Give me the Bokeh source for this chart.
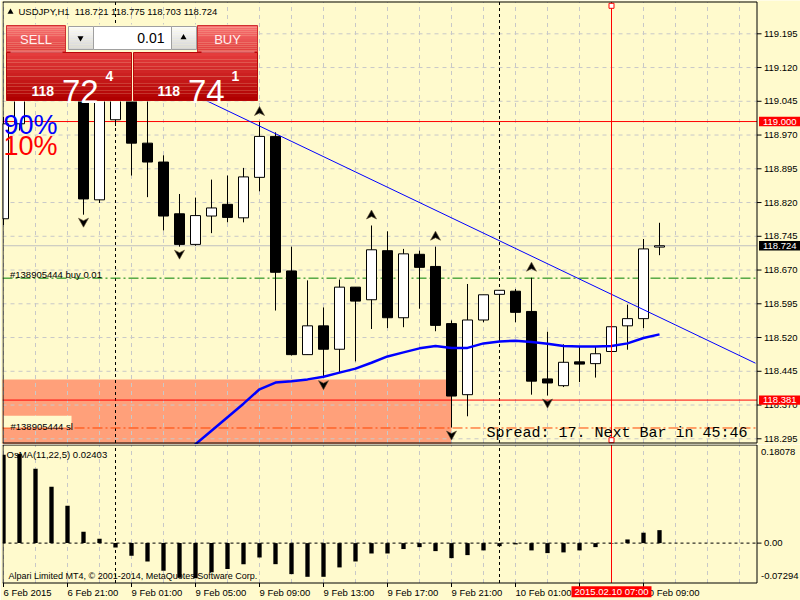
import numpy as np
from bokeh.plotting import figure
from bokeh.layouts import column
from bokeh.models import Range1d
from bokeh.core.properties import value
from bokeh.embed import file_html
from bokeh.resources import INLINE

# ------------------------------------------------------------------ data
symbol = "USDJPY,H1"
bar_times = (["6 Feb %02d:00" % h for h in range(17, 24)] +
             ["9 Feb %02d:00" % h for h in range(0, 24)] +
             ["10 Feb %02d:00" % h for h in range(0, 11)])
opens = [118.784, 118.995, 119.120, 119.180, 119.150, 119.120, 118.826, 119.004, 119.100, 118.952,
         118.910, 118.795, 118.727, 118.790, 118.816, 118.786, 118.876, 118.967, 118.668, 118.482,
         118.546, 118.494, 118.632, 118.604, 118.713, 118.564, 118.705, 118.678, 118.551, 118.393,
         118.559, 118.616, 118.623, 118.578, 118.428, 118.413, 118.466, 118.462, 118.489, 118.546,
         118.562, 118.721]
highs = [119.010, 119.160, 119.200, 119.200, 119.190, 119.140, 119.100, 119.130, 119.120, 119.060,
         118.925, 118.839, 118.831, 118.871, 118.880, 118.897, 118.999, 118.976, 118.722, 118.647,
         118.587, 118.649, 118.632, 118.769, 118.756, 118.717, 118.713, 118.722, 118.558, 118.639,
         118.615, 118.625, 118.628, 118.653, 118.533, 118.505, 118.499, 118.499, 118.546, 118.593,
         118.739, 118.775]
lows = [118.770, 118.980, 119.100, 119.100, 119.080, 118.793, 118.819, 118.990, 118.880, 118.832,
        118.758, 118.722, 118.724, 118.752, 118.776, 118.776, 118.845, 118.580, 118.480, 118.482,
        118.432, 118.441, 118.467, 118.539, 118.541, 118.543, 118.584, 118.534, 118.320, 118.345,
        118.554, 118.518, 118.554, 118.393, 118.391, 118.410, 118.421, 118.431, 118.487, 118.493,
        118.541, 118.703]
closes = [118.995, 119.120, 119.180, 119.150, 119.120, 118.828, 119.080, 119.100, 118.952, 118.910,
          118.790, 118.727, 118.791, 118.808, 118.787, 118.877, 118.967, 118.665, 118.482, 118.546,
          118.494, 118.632, 118.601, 118.715, 118.564, 118.706, 118.676, 118.547, 118.390, 118.559,
          118.615, 118.625, 118.576, 118.423, 118.419, 118.465, 118.461, 118.484, 118.544, 118.562,
          118.717, 118.724]
osma = [0.1635, 0.1650, 0.1376, 0.1043, 0.0690, 0.0209, 0.0080, -0.0081, -0.0235, -0.0340,
        -0.0513, -0.0640, -0.0650, -0.0540, -0.0480, -0.0390, -0.0266, -0.0390, -0.0574, -0.0624,
        -0.0624, -0.0450, -0.0340, -0.0192, -0.0192, -0.0110, -0.0074, -0.0148, -0.0278, -0.0222,
        -0.0135, -0.0056, -0.0024, -0.0135, -0.0185, -0.0172, -0.0135, -0.0074, -0.0010, 0.0068,
        0.0193, 0.02403]
osma_range = [-0.07294, 0.18078]
ma_index = list(range(11, 42))
ma_values = [118.253, 118.283, 118.313, 118.343, 118.373, 118.405, 118.420, 118.423, 118.427, 118.433,
             118.442, 118.451, 118.464, 118.478, 118.487, 118.496, 118.501, 118.497, 118.497, 118.507,
             118.511, 118.513, 118.510, 118.506, 118.501, 118.500, 118.500, 118.501, 118.507, 118.519,
             118.527]
fractal_up = [16, 23, 27, 33]
fractal_down = [5, 11, 20, 28, 34]
trend_index = [10, 47]
trend_price = [119.092, 118.463]
zone_index = [-5, 28]
zone_price = [118.427, 118.100]
day_separators = [7, 31]
level_a = 119.000
level_b = 118.381
order_id = "#138905444"
order_price = 118.652
order_lots = 0.01
sl_price = 118.319
spread_points = 17
next_bar = "45:46"
price_ticks = [119.195, 119.120, 119.045, 118.970, 118.895, 118.820, 118.745, 118.670,
               118.595, 118.520, 118.445, 118.370, 118.295]
date_tick_index = [0, 4, 8, 12, 16, 20, 24, 28, 32, 36, 40]
date_tick_labels = ["6 Feb 2015", "6 Feb 21:00", "9 Feb 01:00", "9 Feb 05:00", "9 Feb 09:00",
                    "9 Feb 13:00", "9 Feb 17:00", "9 Feb 21:00", "10 Feb 01:00", "10 Feb 05:00",
                    "10 Feb 09:00"]
crosshair_index = 38
crosshair_label = "2015.02.10 07:00"
main_y_range = [118.2823, 119.2690]

# ------------------------------------------------------------------ geometry / style
BG = "#FFFACD"
FONT = "Liberation Sans"
FS = "9.5px"
W = 800
H1, H2 = 444, 156
BAR_PX = 16.0
x_lo = -1 / BAR_PX
x_hi = x_lo + (W - 2) / BAR_PX
ppp = (main_y_range[1] - main_y_range[0]) / H1       # price per pixel, main panel
opp = (osma_range[1] - osma_range[0]) / 137.0        # value per pixel, indicator panel
o_hi = osma_range[1] + (445 - H1) * opp
o_lo = o_hi - H2 * opp


def X(px):
    return x_lo + (px - 2) / BAR_PX


def Y(py):
    return main_y_range[1] - py * ppp


def YO(py):
    return o_hi - (py - H1) * opp


def mix(c1, c2, t):
    a = [int(c1[i:i + 2], 16) for i in (1, 3, 5)]
    b = [int(c2[i:i + 2], 16) for i in (1, 3, 5)]
    return "#%02x%02x%02x" % tuple(int(round(a[j] + (b[j] - a[j]) * t)) for j in range(3))


def txt(p, x, y, s, size=FS, color="black", align="left", baseline="middle", font=FONT, style="normal"):
    p.text(x=[x], y=[y], text=[s], text_font=value(font), text_font_size=size, text_color=color,
           text_align=align, text_baseline=baseline, text_font_style=style)


idx = list(range(len(opens)))
bid = closes[-1]
ask = bid + spread_points * 0.001
x_axis = X(756.5)
grid_bars = list(range(0, 48, 2))
GRID = "#c8c8c8"

# ------------------------------------------------------------------ main panel
p1 = figure(frame_width=W - 2, frame_height=H1, x_range=Range1d(x_lo, x_hi),
            y_range=Range1d(*main_y_range), output_backend="svg", toolbar_location=None,
            x_axis_location=None, y_axis_location=None, min_border_left=2, min_border_right=0,
            min_border_top=0, min_border_bottom=0, background_fill_color=BG, border_fill_color=BG,
            outline_line_color=None)
p1.grid.visible = False
top1, bot1 = Y(1.5), Y(442.5)

# zone rectangle
p1.quad(left=[zone_index[0]], right=[zone_index[1]], top=[zone_price[0]], bottom=[zone_price[1]],
        fill_color="#FFA07A", line_color=None)
# grid
p1.segment(x0=[x_lo] * len(price_ticks), y0=price_ticks, x1=[x_axis] * len(price_ticks), y1=price_ticks,
           line_color=GRID, line_dash="4 4", line_width=1)
p1.segment(x0=grid_bars, y0=[bot1] * len(grid_bars), x1=grid_bars, y1=[top1] * len(grid_bars),
           line_color=GRID, line_dash="4 4", line_width=1)
# day separators
p1.segment(x0=day_separators, y0=[bot1] * 2, x1=day_separators, y1=[top1] * 2,
           line_color="black", line_dash="3 3", line_width=1)
# horizontal levels
hl = [(level_a, "#FF0000", "solid"), (level_b, "#FF0000", "solid"), (bid, "#C0C0C0", "solid"),
      (order_price, "#008000", "10 3 2 3"), (sl_price, "#FF4500", "10 3 2 3")]
for lvl, col, dash in hl:
    p1.segment(x0=[x_lo], y0=[lvl], x1=[x_axis], y1=[lvl], line_color=col, line_width=1, line_dash=dash)

# candles
body_top = [max(o, c) for o, c in zip(opens, closes)]
body_bot = [min(o, c) for o, c in zip(opens, closes)]
fills = ["white" if c >= o else "black" for o, c in zip(opens, closes)]
p1.segment(x0=idx, y0=lows, x1=idx, y1=highs, line_color="black", line_width=1)
p1.vbar(x=idx, top=body_top, bottom=body_bot, width=0.625, fill_color=fills, line_color="black", line_width=1)

# trend line and moving average
p1.line(trend_index, trend_price, line_color="#0000FF", line_width=1)
p1.line(ma_index, ma_values, line_color="#0000FF", line_width=2.5)

# fractal arrows (arrow-head shapes, sized in pixels)
up_shape = [(0, -5), (5, 4), (0, 1.5), (-5, 4)]
dn_shape = [(0, 5), (5, -4), (0, -1.5), (-5, -4)]
p1.patches(xs=[[k + dx / BAR_PX for dx, dy in up_shape] for k in fractal_up],
           ys=[[highs[k] + (10.5 - dy) * ppp for dx, dy in up_shape] for k in fractal_up],
           fill_color="black", line_color="#5a4a30", line_width=0.6)
p1.patches(xs=[[k + dx / BAR_PX for dx, dy in dn_shape] for k in fractal_down],
           ys=[[lows[k] - (7.5 + dy) * ppp for dx, dy in dn_shape] for k in fractal_down],
           fill_color="black", line_color="#5a4a30", line_width=0.6)

# crosshair
p1.segment(x0=[crosshair_index], y0=[bot1], x1=[crosshair_index], y1=[top1], line_color="#FF0000", line_width=1)
p1.scatter([crosshair_index, crosshair_index], [Y(5.3), Y(439.7)], marker="square", size=5,
           fill_color="white", line_color="#FF0000", line_width=1)

# order texts
txt(p1, X(9.5), order_price + 3.7 * ppp, "%s buy %.2f" % (order_id, order_lots), baseline="alphabetic")
p1.quad(left=[X(3)], right=[X(71)], top=[sl_price + 12.3 * ppp], bottom=[sl_price + 0.6 * ppp],
        fill_color=BG, line_color=None)
txt(p1, X(10), sl_price + 1.8 * ppp, "%s sl" % order_id, baseline="alphabetic")
txt(p1, X(747), Y(432.5), "Spread: %d. Next Bar in %s" % (spread_points, next_bar), size="15px",
    align="right", font="Liberation Mono")

# panel borders and right price scale
p1.segment(x0=[x_lo, x_lo, X(2.5), x_axis], y0=[top1, bot1, bot1, bot1],
           x1=[x_axis, x_axis, X(2.5), x_axis], y1=[top1, bot1, top1, top1], line_color="black", line_width=1)
p1.segment(x0=[x_axis] * len(price_ticks), y0=price_ticks, x1=[X(761)] * len(price_ticks), y1=price_ticks,
           line_color="black", line_width=1)
p1.text(x=[X(763.5)] * len(price_ticks), y=price_ticks, text=["%.3f" % t for t in price_ticks],
        text_font=value(FONT), text_font_size=FS, text_color="black", text_baseline="middle")
for lvl, bgc in ((level_a, "#FF0000"), (bid, "#000000"), (level_b, "#FF0000")):
    p1.quad(left=[X(758.5)], right=[x_hi], top=[lvl + 4.7 * ppp], bottom=[lvl - 4.7 * ppp],
            fill_color=bgc, line_color=None)
    txt(p1, X(762.5), lvl, "%.3f" % lvl, color="white")

# header
p1.scatter([X(10)], [Y(11.5)], marker="triangle", size=6, fill_color="black", line_color=None)
txt(p1, X(18), Y(10.5), "%s\u00a0\u00a0%.3f %.3f %.3f %.3f" % (symbol, opens[-1], highs[-1], lows[-1], closes[-1]))

# one-click trading panel
p1.quad(left=[X(5)], right=[X(258)], top=[Y(24)], bottom=[Y(101)], fill_color=BG, line_color=None)


def grad_box(px0, px1, py0, py1, ctop, cbot, outline=None, n=14):
    hs = np.linspace(py0, py1, n + 1)
    p1.quad(left=[X(px0)] * n, right=[X(px1)] * n, top=[Y(h) for h in hs[:-1]],
            bottom=[Y(h) for h in hs[1:]], fill_color=[mix(ctop, cbot, i / (n - 1)) for i in range(n)],
            line_color=None)
    if outline:
        p1.quad(left=[X(px0)], right=[X(px1)], top=[Y(py0)], bottom=[Y(py1)], fill_color=None,
                line_color=outline, line_width=1)


grad_box(6, 65, 25, 52, "#f67070", "#e03c3c", "#d03030")
grad_box(197, 257, 25, 52, "#f67070", "#e03c3c", "#d03030")
grad_box(68, 93, 26, 49, "#fbfbfb", "#d6d6d6", "#a0a0a0")
grad_box(171, 196, 26, 49, "#fbfbfb", "#d6d6d6", "#a0a0a0")
p1.quad(left=[X(93)], right=[X(171)], top=[Y(26)], bottom=[Y(49)], fill_color="white",
        line_color="#a0a0a0", line_width=1)
grad_box(6, 131, 52, 100, "#e43c3c", "#b00000", "#b80808")
grad_box(133, 257, 52, 100, "#e43c3c", "#b00000", "#b80808")
p1.segment(x0=[X(10), X(201)], y0=[Y(51.5)] * 2, x1=[X(62), X(254)], y1=[Y(51.5)] * 2,
           line_color="#f2a0a0", line_width=1)
txt(p1, X(35.5), Y(38.5), "SELL", size="13px", color="#fff0f0", align="center")
txt(p1, X(227), Y(38.5), "BUY", size="13px", color="#fff0f0", align="center")
txt(p1, X(164), Y(37.5), "%.2f" % order_lots, size="14px", align="right")
p1.scatter([X(80)], [Y(37.5)], marker="inverted_triangle", size=6, fill_color="black", line_color=None)
p1.scatter([X(183)], [Y(37)], marker="triangle", size=6, fill_color="black", line_color=None)

bid_s, ask_s = "%.3f" % bid, "%.3f" % ask
for x0, s in ((0, bid_s), (126, ask_s)):
    txt(p1, X(31 + x0), Y(90), s[:3], size="14px", color="white", baseline="alphabetic", style="bold")
    txt(p1, X(61.5 + x0), Y(91), s[4:6], size="33px", color="white", baseline="alphabetic")
    txt(p1, X(105 + x0), Y(75), s[6], size="14px", color="white", baseline="alphabetic", style="bold")

txt(p1, X(3), Y(124), "90%", size="27px", color="#0000FF", baseline="alphabetic")
txt(p1, X(3), Y(145), "10%", size="27px", color="#FF0000", baseline="alphabetic")

# ------------------------------------------------------------------ OsMA panel
p2 = figure(frame_width=W - 2, frame_height=H2, x_range=p1.x_range, y_range=Range1d(o_lo, o_hi),
            output_backend="svg", toolbar_location=None, x_axis_location=None, y_axis_location=None,
            min_border_left=2, min_border_right=0, min_border_top=0, min_border_bottom=0,
            background_fill_color=BG, border_fill_color=BG, outline_line_color=None)
p2.grid.visible = False
top2, bot2 = YO(444.5), YO(582.5)

p2.segment(x0=grid_bars, y0=[bot2] * len(grid_bars), x1=grid_bars, y1=[top2] * len(grid_bars),
           line_color=GRID, line_dash="4 4", line_width=1)
p2.segment(x0=day_separators, y0=[bot2] * 2, x1=day_separators, y1=[top2] * 2,
           line_color="black", line_dash="3 3", line_width=1)
p2.vbar(x=idx, top=osma, bottom=0, width=0.27, fill_color="black", line_color=None)
p2.segment(x0=[x_lo], y0=[0], x1=[x_axis], y1=[0], line_color="black", line_dash="3 3", line_width=1)
p2.segment(x0=[crosshair_index], y0=[bot2], x1=[crosshair_index], y1=[top2], line_color="#FF0000", line_width=1)

txt(p2, X(6), YO(448), "OsMA(11,22,5) %.5f" % osma[-1], baseline="top")
txt(p2, X(8), YO(575.5), "Alpari Limited MT4, \u00a9 2001-2014, MetaQuotes Software Corp.", size="9px")

# borders and scales
p2.segment(x0=[x_lo, x_lo, X(2.5), x_axis], y0=[top2, bot2, bot2, bot2],
           x1=[x_axis, x_axis, X(2.5), x_axis], y1=[top2, bot2, top2, top2], line_color="black", line_width=1)
p2.segment(x0=[x_axis], y0=[0], x1=[X(761)], y1=[0], line_color="black", line_width=1)
txt(p2, X(763.5), 0, "%.2f" % 0.0)
txt(p2, X(760.5), YO(451.7), "%.5f" % osma_range[1])
txt(p2, X(760.5), YO(575), "%.5f" % osma_range[0])
p2.segment(x0=date_tick_index, y0=[bot2] * len(date_tick_index), x1=date_tick_index,
           y1=[YO(586.5)] * len(date_tick_index), line_color="black", line_width=1)
p2.text(x=date_tick_index, y=[YO(591.5)] * len(date_tick_index), text=date_tick_labels,
        text_font=value(FONT), text_font_size=FS, text_color="black", text_baseline="middle")
p2.quad(left=[X(571)], right=[X(651)], top=[YO(585.7)], bottom=[YO(596.7)], fill_color="#FF0000", line_color=None)
txt(p2, crosshair_index, YO(591.2), crosshair_label, color="white", align="center")

layout = column(p1, p2, spacing=0)
open("out.html", "w").write(file_html(layout, INLINE))
